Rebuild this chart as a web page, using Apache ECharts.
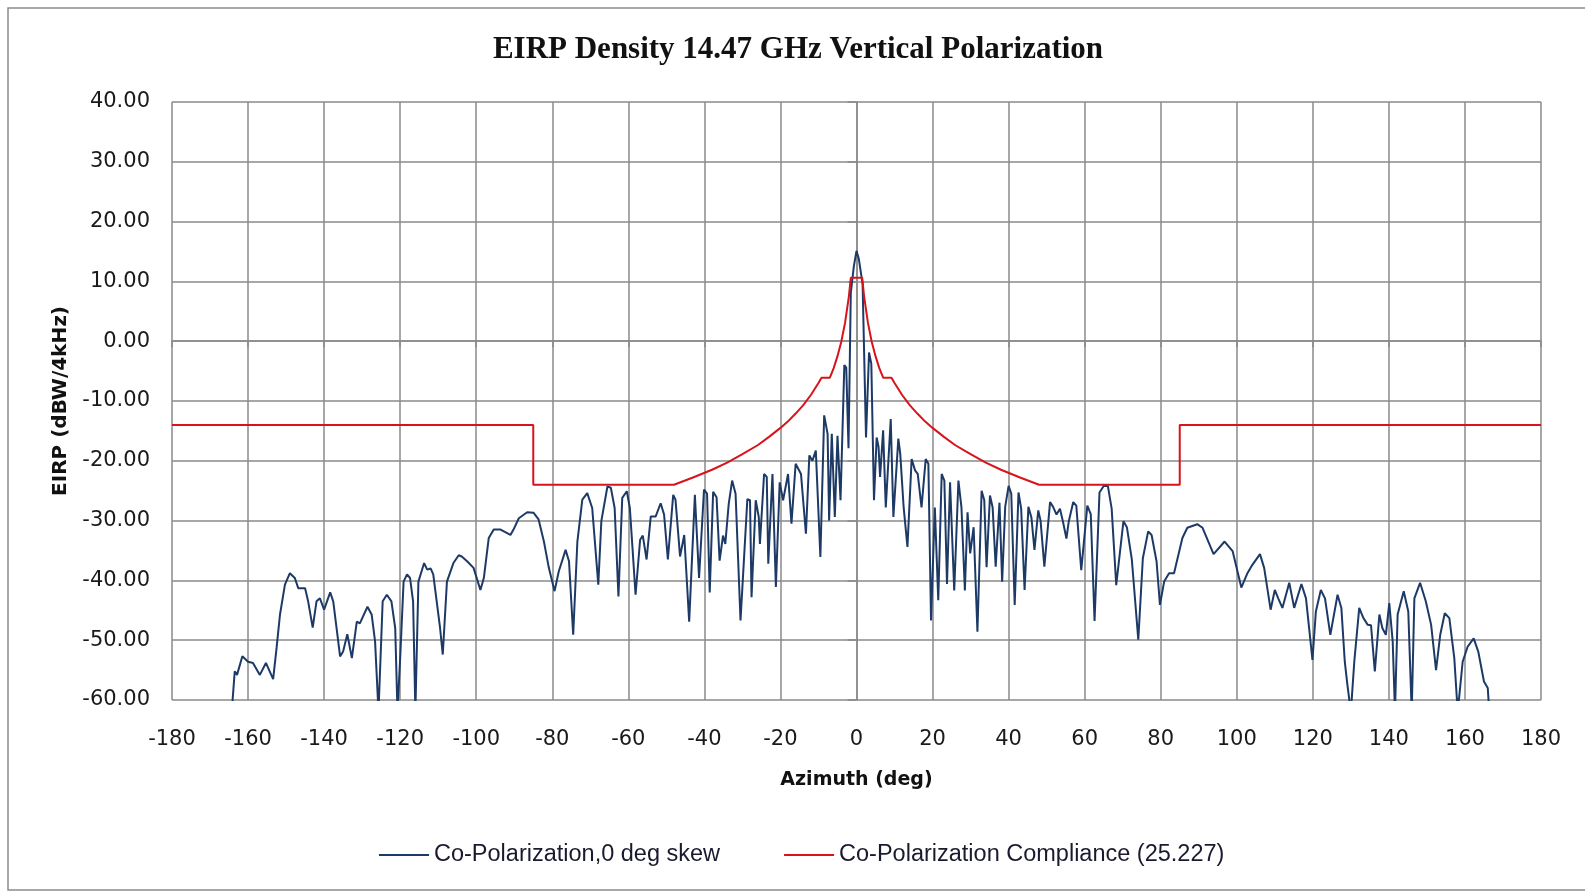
<!DOCTYPE html>
<html>
<head>
<meta charset="utf-8">
<title>EIRP Density 14.47 GHz Vertical Polarization</title>
<script src="https://cdn.jsdelivr.net/npm/echarts@6/dist/echarts.min.js"></script>
<style>
  html, body { margin: 0; padding: 0; background: #fff; }
  #chart { width: 1585px; height: 892px; }
</style>
</head>
<body>
<div id="chart"></div>
<script>
// co-polarization pattern (deg, dBW/4kHz)
const coPolAz = [
  -164.3, -163.5, -162.9, -161.5, -160.0, -158.7, -156.9, -155.3, -153.4, -152.5,
  -151.6, -150.3, -149.0, -147.7, -146.8, -145.0, -144.2, -143.0, -142.0, -141.1,
  -140.0, -138.4, -137.6, -135.8, -135.0, -133.9, -132.7, -131.4, -130.6, -128.6,
  -127.5, -126.6, -125.7, -124.6, -123.5, -122.3, -121.3, -120.7, -120.0, -119.1,
  -118.2, -117.4, -116.6, -116.0, -115.2, -113.7, -112.9, -112.0, -111.3, -109.5,
  -108.8, -107.7, -106.0, -104.6, -103.8, -102.4, -100.7, -98.9, -98.0, -96.7,
  -95.4, -93.6, -91.0, -90.2, -88.8, -86.6, -84.9, -83.6, -82.2, -80.9,
  -79.4, -78.3, -76.5, -75.6, -74.5, -73.4, -72.1, -70.8, -69.5, -67.9,
  -67.1, -65.5, -64.6, -63.6, -62.6, -61.6, -60.4, -59.6, -58.1, -56.9,
  -56.2, -55.2, -54.1, -52.8, -51.5, -50.6, -49.6, -48.2, -47.6, -46.4,
  -45.3, -44.0, -42.5, -41.4, -40.1, -39.3, -38.6, -37.7, -36.8, -36.0,
  -35.1, -34.5, -33.6, -32.7, -31.8, -30.5, -28.7, -28.0, -27.6, -26.5,
  -25.7, -25.4, -24.3, -23.6, -23.2, -22.1, -21.2, -20.2, -19.3, -18.0,
  -17.1, -16.0, -14.6, -13.3, -12.4, -11.6, -10.7, -9.5, -8.5, -7.6,
  -7.2, -6.5, -5.7, -5.0, -4.2, -3.2, -2.7, -2.1, -1.5, -0.7,
  0, 0.6, 1.6, 2.5, 3.3, 3.9, 4.6, 5.3, 5.8, 6.2,
  7.0, 7.7, 9.0, 9.7, 11.0, 11.5, 12.4, 13.4, 14.5, 15.4,
  16.1, 17.1, 18.2, 18.9, 19.6, 20.6, 21.5, 22.4, 23.1, 23.8,
  24.6, 25.7, 26.8, 27.6, 28.5, 29.2, 29.9, 30.8, 31.8, 32.9,
  33.6, 34.2, 35.1, 35.8, 36.6, 37.6, 38.3, 39.1, 40.0, 40.7,
  41.6, 42.6, 43.3, 44.2, 45.2, 46.0, 46.8, 47.8, 48.4, 49.4,
  50.9, 51.7, 52.6, 53.5, 54.3, 55.2, 55.8, 57.0, 57.8, 59.1,
  60.7, 61.6, 62.6, 63.9, 65.0, 66.1, 67.1, 68.3, 70.2, 71.1,
  72.4, 74.1, 75.3, 76.7, 77.6, 78.9, 79.8, 80.9, 82.2, 83.5,
  85.7, 87.0, 89.6, 91.0, 93.9, 96.8, 98.9, 101.2, 102.8, 104.1,
  106.1, 107.2, 108.9, 110.0, 110.9, 112.0, 113.8, 115.1, 117.0, 118.2,
  119.9, 120.8, 122.1, 123.2, 124.6, 126.5, 127.5, 128.4, 129.1, 130.0,
  130.9, 132.2, 133.3, 134.4, 135.3, 136.3, 137.5, 138.3, 139.2, 140.1,
  141.0, 141.6, 142.3, 143.9, 145.1, 146.0, 146.7, 148.2, 149.7, 151.1,
  152.4, 153.5, 154.7, 155.9, 157.2, 158.1, 159.4, 160.7, 162.3, 163.5,
  165.0, 166.0, 166.4
];
const coPolEirp = [
  -62, -55.2, -55.8, -52.7, -53.6, -53.8, -55.8, -53.8, -56.5, -51.3,
  -45.7, -40.7, -38.8, -39.6, -41.3, -41.3, -43.5, -47.9, -43.5, -43.0,
  -44.9, -42.0, -43.5, -52.7, -51.9, -49.0, -53.0, -46.9, -47.2, -44.4,
  -45.7, -50.2, -62, -43.5, -42.4, -43.5, -48.0, -62, -53.0, -40.2,
  -39.0, -39.6, -43.5, -62, -40.2, -37.1, -38.2, -38.0, -39.0, -48.0,
  -52.4, -40.2, -37.1, -35.8, -36.0, -36.8, -37.9, -41.6, -39.6, -32.9,
  -31.5, -31.5, -32.4, -31.5, -29.6, -28.6, -28.7, -29.8, -33.5, -37.9,
  -41.8, -38.5, -34.9, -36.8, -49.1, -33.5, -26.5, -25.4, -27.9, -40.7,
  -30.1, -24.3, -24.5, -27.9, -42.7, -26.2, -25.1, -27.9, -42.4, -33.2,
  -32.5, -36.5, -29.3, -29.3, -27.1, -29.0, -36.5, -25.7, -26.5, -36.0,
  -32.4, -46.9, -25.7, -39.6, -24.8, -25.5, -42.0, -25.2, -26.1, -36.7,
  -32.5, -33.9, -27.2, -23.3, -25.5, -46.7, -26.4, -26.6, -42.8, -26.6,
  -29.4, -33.9, -22.2, -22.7, -37.2, -22.2, -41.1, -23.6, -26.6, -22.2,
  -30.5, -20.5, -22.2, -32.2, -19.1, -20.0, -18.3, -36.1, -12.4, -15.5,
  -30.0, -15.5, -29.4, -15.8, -26.6, -4.0, -4.4, -17.9, 8.1, 12.5,
  15.1, 13.8, 9.6, -16.1, -1.9, -3.8, -26.6, -16.1, -17.7, -22.7,
  -14.9, -27.8, -13.0, -29.4, -16.3, -18.8, -27.8, -34.4, -19.7, -21.6,
  -22.2, -27.8, -19.7, -20.5, -46.7, -27.8, -43.3, -22.2, -23.3, -40.6,
  -23.6, -41.7, -23.3, -27.8, -41.7, -28.6, -35.5, -31.1, -48.6, -25.0,
  -26.6, -37.8, -25.8, -27.8, -37.7, -27.0, -40.2, -27.7, -24.2, -25.5,
  -44.1, -25.3, -28.0, -41.6, -27.7, -29.5, -34.9, -28.3, -30.0, -37.7,
  -26.9, -27.7, -29.0, -28.0, -30.2, -33.0, -30.2, -26.9, -27.5, -38.3,
  -27.5, -28.9, -46.8, -25.3, -24.2, -24.2, -28.0, -40.8, -30.1, -31.1,
  -36.5, -49.9, -36.3, -31.8, -32.4, -36.8, -44.1, -40.2, -38.8, -38.8,
  -32.9, -31.2, -30.6, -31.2, -35.6, -33.5, -35.1, -41.2, -38.8, -37.4,
  -35.6, -37.9, -44.9, -41.6, -43.0, -44.6, -40.4, -44.6, -40.6, -43.0,
  -53.3, -45.2, -41.6, -43.0, -49.1, -42.4, -44.6, -53.6, -57.5, -62,
  -53.6, -44.6, -46.3, -47.4, -47.5, -55.2, -45.7, -48.0, -49.1, -43.8,
  -50.2, -62, -45.7, -41.8, -45.2, -62, -43.0, -40.4, -43.5, -47.4,
  -55.0, -49.1, -45.5, -46.3, -53.0, -62, -53.6, -51.1, -49.7, -51.9,
  -56.9, -58.0, -62
];

// compliance mask (25.227)
const maskAz = [
  -180, -85, -85, -48, -43, -38, -34, -30, -26, -23, -20, -18, -16, -14, -12, -10,
  -9.2, -7, -6, -5, -4, -3, -2, -1.5, 1.5, 2, 3, 4, 5, 6, 7, 9.2,
  10, 12, 14, 16, 18, 20, 23, 26, 30, 34, 38, 43, 48, 85, 85, 180
];
const maskEirp = [
  -14, -14, -24, -24, -22.8, -21.5, -20.3, -18.9, -17.4, -16.0, -14.5, -13.4, -12.1, -10.7, -9.0, -7.0,
  -6.1, -6.1, -4.5, -2.5, -0.1, 3.1, 7.5, 10.6, 10.6, 7.5, 3.1, -0.1, -2.5, -4.5, -6.1, -6.1,
  -7.0, -9.0, -10.7, -12.1, -13.4, -14.5, -16.0, -17.4, -18.9, -20.3, -21.5, -22.8, -24, -24, -14, -14
];

const seriesNames = ['Co-Polarization,0 deg skew', 'Co-Polarization Compliance (25.227)'];

const zip = (xs, ys) => xs.map((x, i) => [x, ys[i]]);

const chart = echarts.init(document.getElementById('chart'));

const gridColor = '#8a8a8a';
const option = {
  backgroundColor: '#fff',
  animation: false,
  title: {
    text: 'EIRP Density 14.47 GHz Vertical Polarization',
    left: 793,
    top: 29,
    textAlign: 'center',
    textStyle: {
      fontFamily: 'Liberation Serif',
      fontWeight: 'bold',
      fontSize: 31,
      color: '#111'
    }
  },
  legend: {
    data: seriesNames,
    left: 374,
    top: 838,
    itemWidth: 50,
    itemHeight: 2,
    itemGap: 64,
    icon: 'rect',
    textStyle: {
      fontFamily: 'Liberation Sans',
      fontSize: 23.5,
      color: '#1a1a2e'
    }
  },
  graphic: [{
    type: 'rect',
    shape: { x: 8, y: 8, width: 1600, height: 882 },
    style: { fill: 'none', stroke: '#8c8c8c', lineWidth: 1.5 },
    silent: true
  }],
  grid: {
    left: 172,
    right: 44,
    top: 102,
    bottom: 192
  },
  xAxis: {
    type: 'value',
    min: -180,
    max: 180,
    interval: 20,
    name: 'Azimuth (deg)',
    nameLocation: 'middle',
    nameGap: 71,
    nameTextStyle: {
      fontFamily: 'DejaVu Sans',
      fontWeight: 'bold',
      fontSize: 19,
      color: '#111'
    },
    axisLine: { lineStyle: { color: gridColor, width: 1.5 } },
    axisTick: { show: true, inside: false, length: 6, lineStyle: { color: gridColor, width: 1.5 } },
    axisLabel: {
      margin: 29,
      fontFamily: 'DejaVu Sans',
      fontSize: 21,
      color: '#1a1a1a'
    },
    splitLine: { show: true, lineStyle: { color: gridColor, width: 1.5 } }
  },
  yAxis: {
    type: 'value',
    min: -60,
    max: 40,
    interval: 10,
    name: 'EIRP (dBW/4kHz)',
    nameLocation: 'middle',
    nameGap: 101,
    nameTextStyle: {
      fontFamily: 'DejaVu Sans',
      fontWeight: 'bold',
      fontSize: 20,
      color: '#111'
    },
    axisLine: { show: true, lineStyle: { color: gridColor, width: 1.5 } },
    axisTick: { show: true, inside: false, length: 9, lineStyle: { color: gridColor, width: 1.5 } },
    axisLabel: {
      margin: 22,
      fontFamily: 'DejaVu Sans',
      fontSize: 21,
      color: '#1a1a1a',
      formatter: v => v.toFixed(2)
    },
    splitLine: { show: true, lineStyle: { color: gridColor, width: 1.5 } }
  },
  series: [
    {
      name: seriesNames[0],
      type: 'line',
      data: zip(coPolAz, coPolEirp),
      showSymbol: false,
      symbol: 'none',
      clip: true,
      lineStyle: { color: '#1d3a66', width: 2 },
      itemStyle: { color: '#1d3a66' }
    },
    {
      name: seriesNames[1],
      type: 'line',
      data: zip(maskAz, maskEirp),
      showSymbol: false,
      symbol: 'none',
      clip: true,
      lineStyle: { color: '#d7141c', width: 2 },
      itemStyle: { color: '#d7141c' }
    }
  ]
};

chart.setOption(option);
</script>
</body>
</html>
